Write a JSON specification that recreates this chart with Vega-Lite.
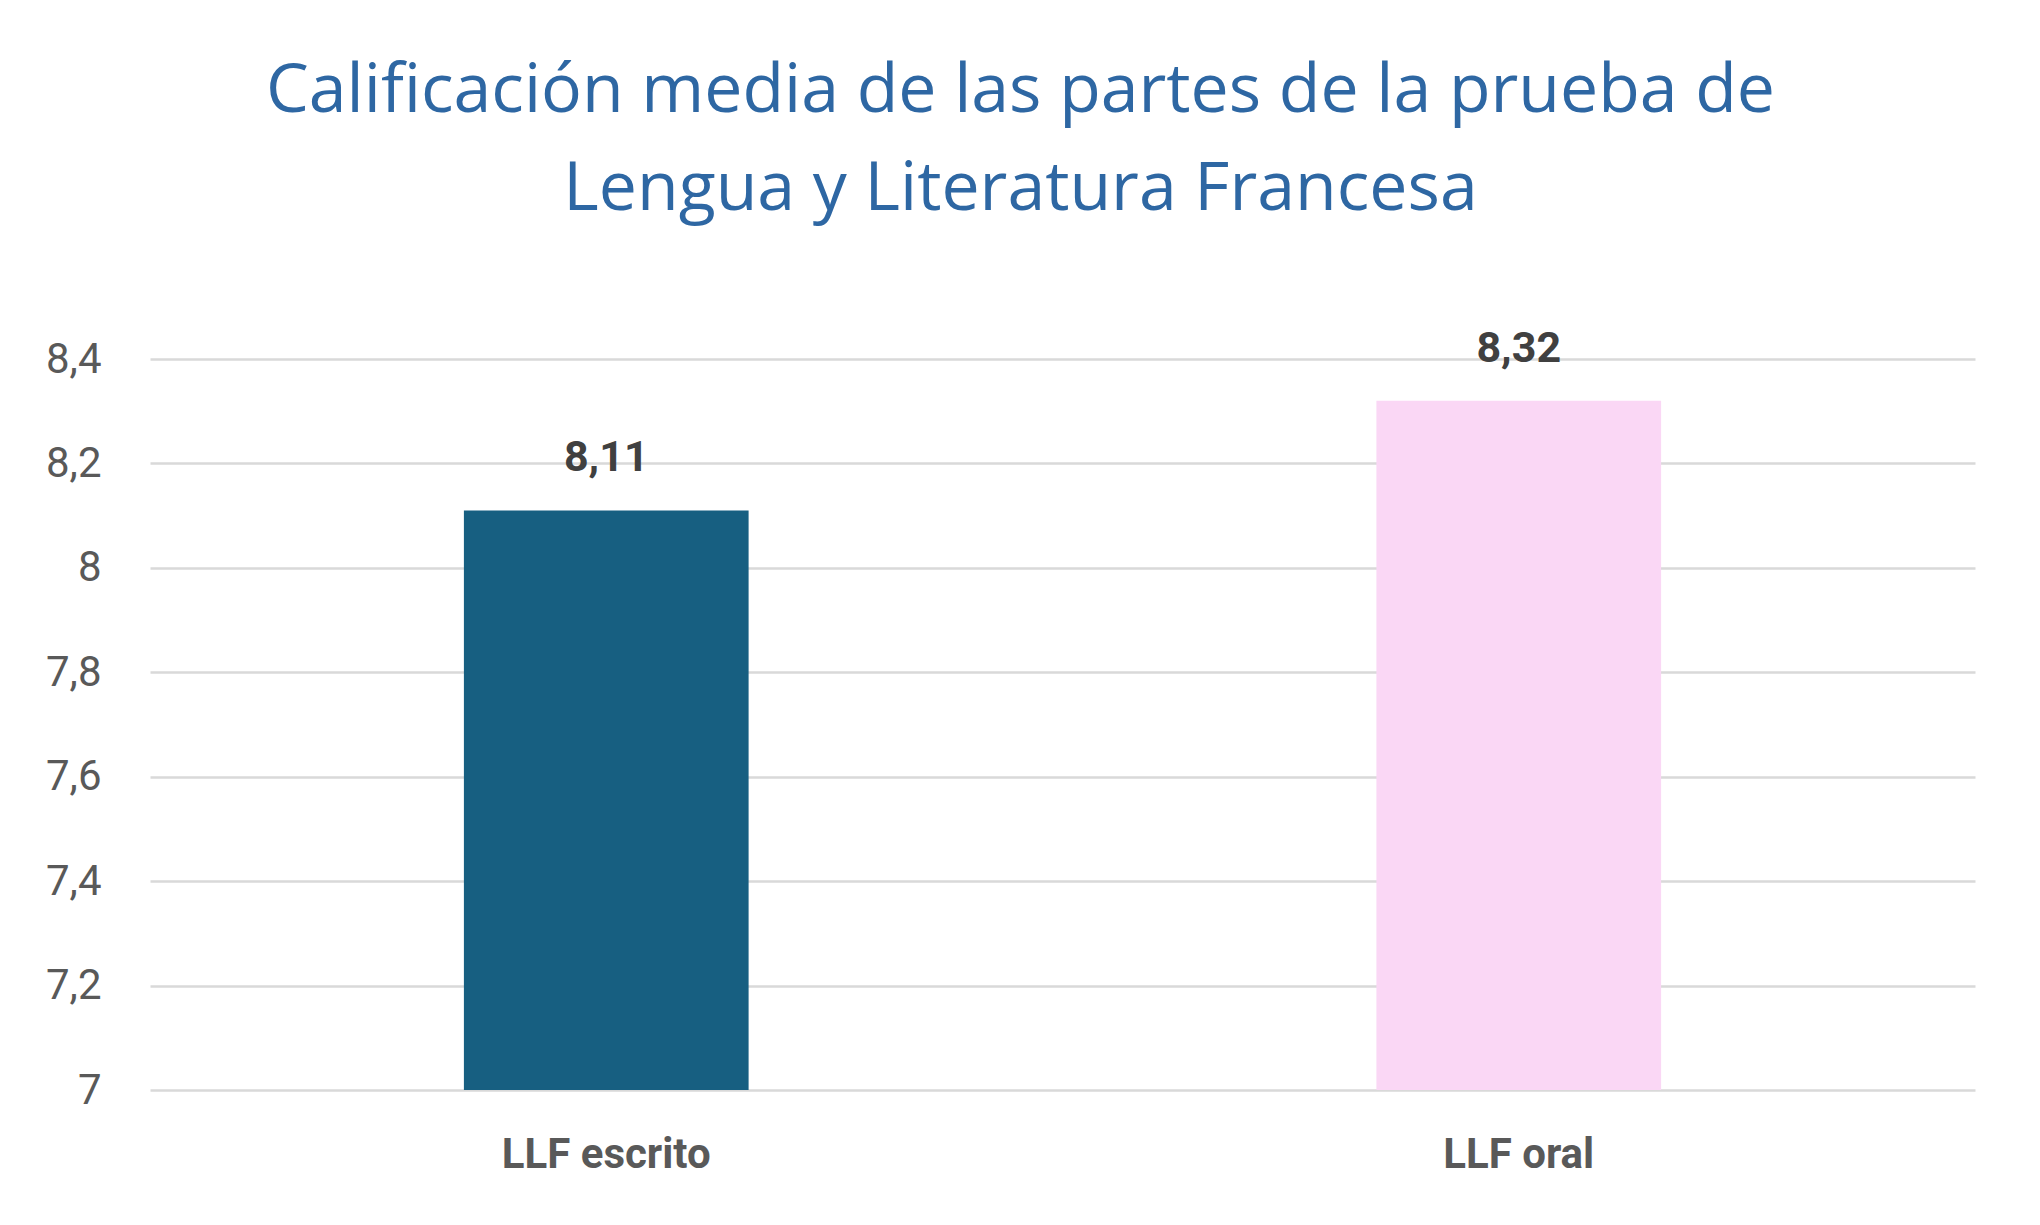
{
  "$schema": "https://vega.github.io/schema/vega-lite/v6.json",
  "width": 1825,
  "height": 731,
  "autosize": {"type": "none"},
  "padding": {"left": 150, "top": 359, "right": 65, "bottom": 135},
  "background": "white",
  "title": {
    "text": ["Calificación media de las partes de la prueba de", "Lengua y Literatura Francesa"],
    "font": "Open Sans",
    "fontSize": 68,
    "fontWeight": "normal",
    "color": "#2E67A3",
    "lineHeight": 98,
    "anchor": "middle",
    "dx": -42,
    "offset": 104
  },
  "data": {
    "values": [
      {"parte": "LLF escrito", "nota": 8.11},
      {"parte": "LLF oral", "nota": 8.32}
    ]
  },
  "encoding": {
    "x": {
      "field": "parte",
      "type": "nominal",
      "sort": null,
      "title": null,
      "scale": {"paddingInner": 0.688, "paddingOuter": 0.344},
      "axis": {
        "labelAngle": 0,
        "labelFont": "Roboto",
        "labelFontSize": 42,
        "labelFontWeight": "bold",
        "labelColor": "#595959",
        "labelPadding": 44,
        "labelLimit": 0,
        "ticks": false,
        "domain": false,
        "grid": false
      }
    },
    "y": {
      "field": "nota",
      "type": "quantitative",
      "title": null,
      "scale": {"domain": [7, 8.4], "zero": false, "nice": false},
      "axis": {
        "values": [7, 7.2, 7.4, 7.6, 7.8, 8, 8.2, 8.4],
        "format": "~g",
        "labelFont": "Roboto",
        "labelFontSize": 42,
        "labelColor": "#595959",
        "labelPadding": 49,
        "ticks": false,
        "domain": false,
        "grid": true,
        "gridColor": "#D9D9D9",
        "gridWidth": 2.5
      }
    }
  },
  "layer": [
    {
      "mark": {"type": "bar"},
      "encoding": {
        "y2": {"datum": 7},
        "color": {
          "field": "parte",
          "type": "nominal",
          "legend": null,
          "scale": {"domain": ["LLF escrito", "LLF oral"], "range": ["#175F81", "#FAD7F5"]}
        }
      }
    },
    {
      "mark": {
        "type": "text",
        "baseline": "alphabetic",
        "dy": -39,
        "font": "Roboto",
        "fontSize": 43,
        "fontWeight": "bold",
        "color": "#404040"
      },
      "encoding": {
        "text": {"field": "nota", "type": "quantitative", "format": ".2f"}
      }
    }
  ],
  "config": {
    "view": {"stroke": null},
    "locale": {
      "number": {"decimal": ",", "thousands": ".", "grouping": [3], "currency": ["", " €"]}
    }
  }
}
